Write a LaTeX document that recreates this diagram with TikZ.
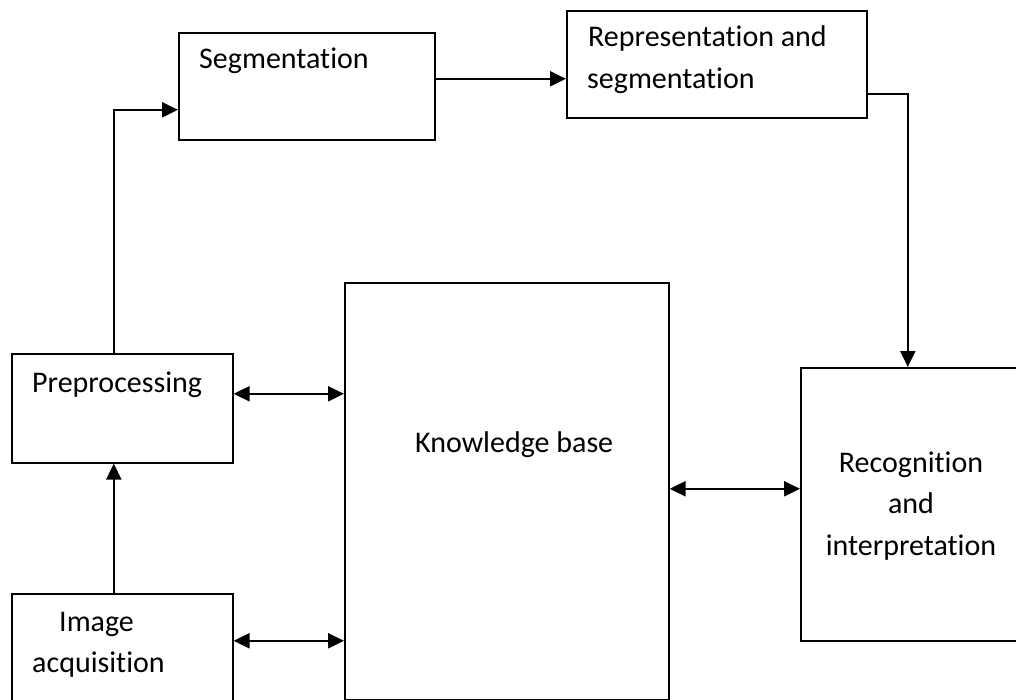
\documentclass[tikz,border=0pt]{standalone}
\usepackage{fontspec}
\setmainfont{Carlito}[Ligatures=CommonOff]
\usetikzlibrary{arrows.meta}

\begin{document}
\begin{tikzpicture}[x=1pt,y=-1pt,
                every path/.style={>={Triangle[length=16pt,width=15pt]}},
                box/.style={draw,rectangle,line width=1.6pt,anchor=north west,inner sep=0pt},
                txt/.style={font=\fontsize{30}{41}\selectfont,inner sep=0pt},
                link/.style={line width=2.2pt}]
  \useasboundingbox (0,0) rectangle (1016,700);
  % blocks
  \node[box,minimum width=256pt,minimum height=107pt] (seg) at (178,32)  {};
  \node[box,minimum width=300pt,minimum height=107pt] (rep) at (566,10)  {};
  \node[box,minimum width=221pt,minimum height=109pt] (pre) at (11,353)  {};
  \node[box,minimum width=221pt,minimum height=110pt] (acq) at (11,593)  {};
  \node[box,minimum width=324pt,minimum height=417pt] (kb)  at (344,282) {};
  \node[box,minimum width=224pt,minimum height=273pt] (rec) at (800,367) {};
  % texts
  \node[txt,anchor=base west] (segt)  at (199,69)  {Segmentation};
  \node[txt,anchor=base west] (rept1) at (588,47)  {Representation and};
  \node[txt,anchor=base west] (rept2) at (587,89)  {segmentation};
  \node[txt,anchor=base west] (pret)  at (32,392)  {Preprocessing};
  \node[txt,anchor=base west] (acqt1) at (59,631)  {Image};
  \node[txt,anchor=base west] (acqt2) at (32,672)  {acquisition};
  \node[txt,anchor=base west] (kbt)   at (415,452) {Knowledge base};
  \node[txt,anchor=base]      (rect1) at (911,472) {Recognition};
  \node[txt,anchor=base]      (rect2) at (911,513) {and};
  \node[txt,anchor=base]      (rect3) at (911,555) {interpretation};
  % connectors
  \draw[link,->] ([xshift=-8.5pt]acq.north) -- ([xshift=-8.5pt]pre.south);
  \draw[link,->] ([xshift=-8.5pt]pre.north) |- ([yshift=-23.5pt]seg.west);
  \draw[link,->] ([yshift=7.5pt]seg.east) -- ([yshift=-14.5pt]rep.west);
  \draw[link,->] ([yshift=-29.5pt]rep.east) -| ([xshift=-5pt]rec.north);
  \draw[link,<->] ([yshift=14.5pt]pre.east) -- ([yshift=97.5pt]kb.west);
  \draw[link,<->] ([yshift=8pt]acq.east) -- ([yshift=-149.5pt]kb.west);
  \draw[link,<->] ([yshift=2.5pt]kb.east) -- ([yshift=15.5pt]rec.west);
\end{tikzpicture}
\end{document}
